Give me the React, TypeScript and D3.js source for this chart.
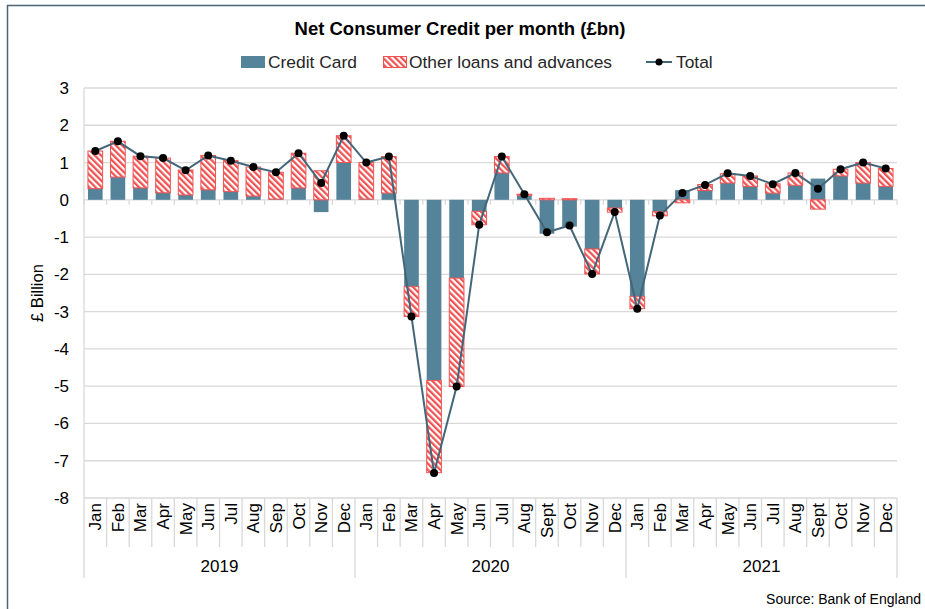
import React from 'react';
import * as d3 from 'd3';

const MONTHS = [
  'Jan', 'Feb', 'Mar', 'Apr', 'May', 'Jun', 'Jul', 'Aug', 'Sep', 'Oct', 'Nov', 'Dec',
  'Jan', 'Feb', 'Mar', 'Apr', 'May', 'Jun', 'Jul', 'Aug', 'Sept', 'Oct', 'Nov', 'Dec',
  'Jan', 'Feb', 'Mar', 'Apr', 'May', 'Jun', 'Jul', 'Aug', 'Sept', 'Oct', 'Nov', 'Dec',
];
const YEARS = ['2019', '2020', '2021'];

const CREDIT_CARD = [
  0.30, 0.61, 0.32, 0.19, 0.13, 0.27, 0.22, 0.10, 0.02, 0.32, -0.33, 1.00,
  0.02, 0.18, -2.33, -4.85, -2.10, -0.31, 0.72, 0.12, -0.91, -0.72, -1.32, -0.22,
  -2.59, -0.32, 0.26, 0.25, 0.45, 0.36, 0.18, 0.39, 0.57, 0.64, 0.45, 0.36,
];
const OTHER_LOANS = [
  1.01, 0.96, 0.85, 0.93, 0.67, 0.92, 0.83, 0.78, 0.72, 0.93, 0.78, 0.72,
  0.98, 0.98, -0.80, -2.47, -2.91, -0.36, 0.44, 0.03, 0.04, 0.03, -0.67, -0.11,
  -0.33, -0.11, -0.08, 0.16, 0.25, 0.28, 0.25, 0.33, -0.25, 0.18, 0.55, 0.48,
];
const TOTAL = [
  1.31, 1.57, 1.17, 1.12, 0.79, 1.19, 1.05, 0.88, 0.74, 1.25, 0.45, 1.72,
  1.00, 1.16, -3.13, -7.33, -5.01, -0.67, 1.16, 0.15, -0.87, -0.69, -1.99, -0.33,
  -2.92, -0.42, 0.18, 0.40, 0.71, 0.64, 0.42, 0.72, 0.30, 0.82, 1.00, 0.84,
];
const Y_TICKS = [3, 2, 1, 0, -1, -2, -3, -4, -5, -6, -7, -8];

const W = 925, H = 609;
const m = { l: 84, r: 897, t: 88, b: 498 };
const CC_COLOR = '#55839a';
const RED = '#f05252';
const LINE_COLOR = '#436679';
const GRID = '#d9d9d9';
const FONT = "'Liberation Sans', Arial, sans-serif";

export default function App() {
  const idx = MONTHS.map((_, i) => i);
  const x = d3.scaleBand<number>().domain(idx).range([m.l, m.r]).paddingInner(0.35).paddingOuter(0.175);
  const y = d3.scaleLinear().domain([-8, 3]).range([m.b, m.t]);
  const step = x.step();
  const edge = (i: number) => m.l + i * step;

  // stack: positives up from 0, negatives down from 0 (credit card first)
  const bars: { i: number; y0: number; y1: number; kind: string }[] = [];
  idx.forEach(i => {
    let pos = 0, neg = 0;
    [['cc', CREDIT_CARD[i]], ['other', OTHER_LOANS[i]]].forEach(([kind, v]: any) => {
      if (v >= 0) { bars.push({ i, y0: pos, y1: pos + v, kind }); pos += v; }
      else { bars.push({ i, y0: neg, y1: neg + v, kind }); neg += v; }
    });
  });

  const line = d3.line<number>().x(i => x(i)! + x.bandwidth() / 2).y(i => y(TOTAL[i]));

  return (
    <div style={{ position: 'absolute', left: 0, top: 0 }}>
      <svg width={W} height={H} style={{ display: 'block', fontFamily: FONT }}>
        <defs>
          <pattern id="hatch" patternUnits="userSpaceOnUse" width="4.4" height="4.4" patternTransform="rotate(-45)">
            <rect width="4.4" height="4.4" fill="#fff" />
            <line x1="1.1" y1="0" x2="1.1" y2="4.4" stroke={RED} strokeWidth="2.3" />
          </pattern>
        </defs>
        <rect x={0} y={0} width={W} height={H} fill="#fff" />
        <rect x={7.5} y={5.5} width={1000} height={1000} fill="none" stroke="#4a6579" strokeWidth={1.5} />

        <text x={460} y={35} textAnchor="middle" fontSize={18.5} fontWeight="bold" fill="#000">
          Net Consumer Credit per month (£bn)
        </text>

        {/* legend */}
        <g fontSize={17.4} fill="#262626">
          <rect x={241} y={56} width={24} height={12} fill={CC_COLOR} />
          <text x={268} y={68}>Credit Card</text>
          <rect x={383.5} y={56.5} width={23} height={11} fill="url(#hatch)" stroke={RED} strokeWidth={1} />
          <text x={409} y={68}>Other loans and advances</text>
          <line x1={646} x2={672} y1={62} y2={62} stroke={LINE_COLOR} strokeWidth={2} />
          <circle cx={659} cy={62} r={3.5} fill="#000" />
          <text x={676} y={68}>Total</text>
        </g>

        {/* gridlines */}
        {Y_TICKS.map(t => (
          <line key={t} x1={m.l} x2={m.r} y1={y(t)} y2={y(t)} stroke={GRID} strokeWidth={1.3} />
        ))}
        <line x1={m.l} x2={m.l} y1={m.t} y2={m.b} stroke={GRID} strokeWidth={1.3} />
        {Y_TICKS.map(t => (
          <text key={t} x={69} y={y(t) + 6} textAnchor="end" fontSize={17} fill="#000">{t}</text>
        ))}
        <text transform={`translate(43,${293}) rotate(-90)`} textAnchor="middle" fontSize={16.5} fill="#000">£ Billion</text>

        {/* zero axis ticks */}
        {d3.range(37).map(i => (
          <line key={i} x1={edge(i)} x2={edge(i)} y1={y(0)} y2={y(0) + 5} stroke={GRID} strokeWidth={1.3} />
        ))}

        {/* bars */}
        {bars.map((b, k) => (
          <rect key={k} x={x(b.i)} width={x.bandwidth()}
            y={y(Math.max(b.y0, b.y1))} height={Math.abs(y(b.y0) - y(b.y1))}
            fill={b.kind === 'cc' ? CC_COLOR : 'url(#hatch)'}
            stroke={b.kind === 'cc' ? 'none' : RED} strokeWidth={1} />
        ))}

        {/* total line */}
        <path d={line(idx) || ''} fill="none" stroke={LINE_COLOR} strokeWidth={2} />
        {idx.map(i => (
          <circle key={i} cx={x(i)! + x.bandwidth() / 2} cy={y(TOTAL[i])} r={4} fill="#000" />
        ))}

        {/* category axis */}
        {d3.range(37).map(i => (
          <line key={i} x1={edge(i)} x2={edge(i)} y1={m.b} y2={i % 12 === 0 ? 578 : 547} stroke={GRID} strokeWidth={1.3} />
        ))}
        {MONTHS.map((mo, i) => (
          <text key={i} transform={`translate(${x(i)! + x.bandwidth() / 2 + 6},${503}) rotate(-90)`}
            textAnchor="end" fontSize={17} fill="#000">{mo}</text>
        ))}
        {YEARS.map((yr, j) => (
          <text key={yr} x={edge(j * 12 + 6)} y={572} textAnchor="middle" fontSize={17} fill="#000">{yr}</text>
        ))}

        <text x={921} y={604} textAnchor="end" fontSize={14} fill="#000">Source: Bank of England</text>
      </svg>
    </div>
  );
}
